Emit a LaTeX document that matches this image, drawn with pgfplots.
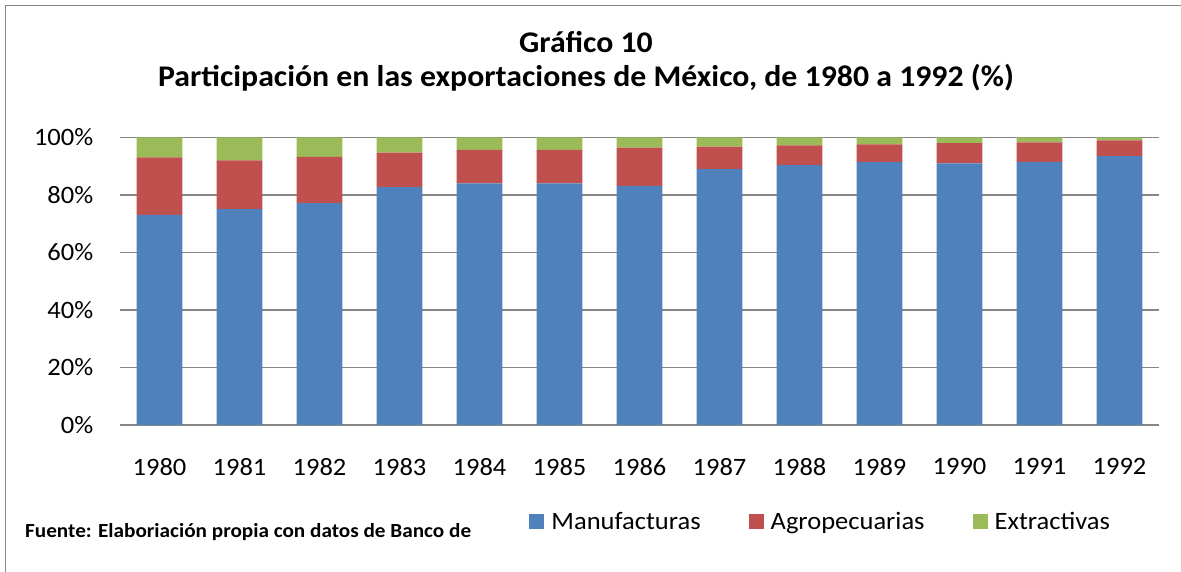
\documentclass[border=0pt]{standalone}
\usepackage{pgfplots}
\usepackage{pgfplotstable}
\pgfplotsset{compat=1.18}
\usepackage{fontspec}
\setmainfont{Carlito}[FakeStretch=1.06]
\definecolor{manu}{RGB}{79,129,189}
\definecolor{agro}{RGB}{192,80,77}
\definecolor{extr}{RGB}{155,187,89}
\definecolor{gridc}{RGB}{134,134,134}
\pgfplotstableread{
x  manu  agro  extr
0  73.1  20.0  6.9
1  75.1  16.9  8.0
2  77.2  16.1  6.7
3  82.7  12.0  5.3
4  84.0  11.7  4.3
5  84.0  11.7  4.3
6  83.2  13.3  3.5
7  89.0   7.8  3.2
8  90.4   6.9  2.7
9  91.4   6.2  2.4
10 91.0   7.0  2.0
11 91.5   6.8  1.7
12 93.5   5.5  1.0
}\datatable
\begin{document}
\begin{tikzpicture}[x=1pt,y=1pt]
\path[use as bounding box] (0,0) rectangle (1181,572);
\draw[gridc, line width=1pt] (5,0) -- (5,566) -- (1181,566);
\node[font=\fontsize{30}{34}\selectfont\bfseries, anchor=base] at (586,519.7) {Gráfico 10};
\node[font=\fontsize{30}{34}\selectfont\bfseries, anchor=base] at (586,485.3) {Participación en las exportaciones de México, de 1980 a 1992 (\%)};
\node[font=\fontsize{20}{24}\selectfont\bfseries, anchor=base west, inner sep=0pt] at (25,34) {Fuente: Elaboriación propia con datos de Banco de};
\begin{axis}[
  at={(119.5pt,147pt)}, anchor=south west,
  scale only axis, width=1040pt, height=287.5pt,
  ybar stacked, bar width=45.7pt,
  xmin=-0.5, xmax=12.5, ymin=0, ymax=100,
  xtick={0,1,2,3,4,5,6,7,8,9,10,11,12},
  xticklabels={1980,1981,1982,1983,1984,1985,1986,1987,1988,1989,1990,1991,1992},
  ytick={0,20,40,60,80,100},
  yticklabels={0\%,20\%,40\%,60\%,80\%,100\%},
  ymajorgrids, grid style={gridc, line width=1.2pt},
  axis line style={draw=none},
  major tick length=0pt, tick style={draw=none},
  tick label style={font=\fontsize{25}{30}\selectfont, inner sep=0pt},
  yticklabel style={anchor=east, xshift=-26pt},
  xticklabel style={anchor=north, yshift=-33pt},
  legend columns=3,
  legend style={at={(0.394,-0.362)}, anchor=base west, draw=none, fill=none, inner sep=0pt,
    font=\fontsize{25}{30}\selectfont,
    nodes={inner sep=0pt, anchor=base west},
    /tikz/every odd column/.append style={column sep=7pt},
    /tikz/every even column/.append style={column sep=48pt}},
  legend image code/.code={\fill[#1] (0pt,0pt) rectangle (15pt,15pt);},
]
\addplot[fill=manu, draw=none] table[x=x, y=manu] {\datatable};
\addplot[fill=agro, draw=none] table[x=x, y=agro] {\datatable};
\addplot[fill=extr, draw=none] table[x=x, y=extr] {\datatable};
\legend{Manufacturas, Agropecuarias, Extractivas}
\end{axis}
\end{tikzpicture}
\end{document}
